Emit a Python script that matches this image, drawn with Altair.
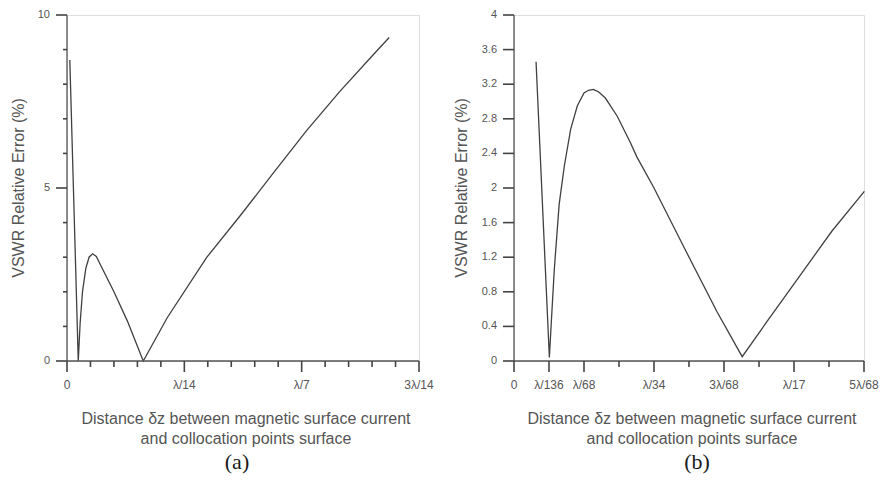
import altair as alt
import pandas as pd

# ---- panel (a): x in units of lambda/70 ----
a_x = [0.12, 0.48, 0.56, 0.66, 0.80, 0.94, 1.09, 1.25, 1.44, 2.00, 2.57, 3.25, 4.27, 5.96, 7.37, 8.78, 10.20, 11.61, 13.02, 13.73]
a_y = [8.70, 0.00, 1.10, 2.00, 2.67, 3.00, 3.10, 3.02, 2.76, 2.00, 1.16, 0.00, 1.25, 3.00, 4.19, 5.42, 6.65, 7.78, 8.83, 9.35]

# ---- panel (b): x in units of lambda/136 ----
b_x = [0.63, 1.01, 1.08, 1.15, 1.29, 1.44, 1.62, 1.81, 2.00, 2.13, 2.27, 2.42, 2.61, 2.95, 3.32, 3.51, 4.00, 4.90, 5.80, 6.52, 7.20, 8.14, 9.08, 10.01]
b_y = [3.46, 0.04, 0.55, 1.05, 1.81, 2.26, 2.68, 2.95, 3.10, 3.13, 3.14, 3.11, 3.04, 2.83, 2.53, 2.36, 2.00, 1.28, 0.57, 0.05, 0.44, 0.97, 1.50, 1.96]

a_xdomain = [0, 15]
a_ydomain = [0, 10]
a_xminor = [1, 2, 3, 4, 6, 7, 8, 9, 11, 12, 13, 14]
a_xmajor = [0, 5, 10, 15]
a_xlabels = ["0", "λ/14", "λ/7", "3λ/14"]
a_yminor = [1, 2, 3, 4, 6, 7, 8, 9]
a_ymajor = [0, 5, 10]
a_ylabels = ["0", "5", "10"]

b_xdomain = [0, 10]
b_ydomain = [0, 4]
b_xminor = [3, 5, 7, 9]
b_xmajor = [0, 1, 2, 4, 6, 8, 10]
b_xlabels = ["0", "λ/136", "λ/68", "λ/34", "3λ/68", "λ/17", "5λ/68"]
b_yminor = []
b_ymajor = [0, 0.4, 0.8, 1.2, 1.6, 2, 2.4, 2.8, 3.2, 3.6, 4]
b_ylabels = ["0", "0.4", "0.8", "1.2", "1.6", "2", "2.4", "2.8", "3.2", "3.6", "4"]

x_title = ["Distance δz between magnetic surface current", "and collocation points surface"]
y_title = "VSWR Relative Error (%)"

GREY = "#555555"
TICK = "#444444"
LINE = "#404040"
FONT = "Liberation Sans"
MAJOR = 11
MINOR_X = 6
MINOR_Y = 4


def panel(xs, ys, xdom, ydom, xmaj, xlab, xmin, ymaj, ylab, ymin, w, h,
          caption, ytitle_dx, caption_dx):
    sx = alt.Scale(domain=xdom, nice=False, zero=True)
    sy = alt.Scale(domain=ydom, nice=False)

    line = alt.Chart(pd.DataFrame({"x": xs, "y": ys})).mark_line(color=LINE, strokeWidth=1.3).encode(
        x=alt.X("x:Q", scale=sx, axis=None),
        y=alt.Y("y:Q", scale=sy, axis=None),
    )
    rule = dict(color=GREY, strokeWidth=1.3)
    tick = dict(color=TICK, strokeWidth=1.6, opacity=1)
    xdomain_line = alt.Chart(pd.DataFrame({"a": [xdom[0]], "b": [xdom[1]]})).mark_rule(**rule).encode(
        x=alt.X("a:Q", scale=sx, axis=None), x2="b:Q", y=alt.value(h))
    ydomain_line = alt.Chart(pd.DataFrame({"a": [ydom[0]], "b": [ydom[1]]})).mark_rule(**rule).encode(
        y=alt.Y("a:Q", scale=sy, axis=None), y2="b:Q", x=alt.value(0))

    def xticks(vals, size):
        return alt.Chart(pd.DataFrame({"x": vals})).mark_rule(**tick).encode(
            x=alt.X("x:Q", scale=sx, axis=None), y=alt.value(h), y2=alt.value(h + size))

    def yticks(vals, size):
        return alt.Chart(pd.DataFrame({"y": vals})).mark_rule(**tick).encode(
            y=alt.Y("y:Q", scale=sy, axis=None), x=alt.value(-size), x2=alt.value(0))

    xlab_layer = alt.Chart(pd.DataFrame({"x": xmaj, "label": xlab})).mark_text(
        font=FONT, fontSize=12, color=GREY, align="center", baseline="middle").encode(
        x=alt.X("x:Q", scale=sx, axis=None), y=alt.value(h + 24), text="label:N")
    ylab_layer = alt.Chart(pd.DataFrame({"y": ymaj, "label": ylab})).mark_text(
        font=FONT, fontSize=11, color=GREY, align="right", baseline="middle").encode(
        y=alt.Y("y:Q", scale=sy, axis=None), x=alt.value(-17), text="label:N")
    ytitle_layer = alt.Chart(pd.DataFrame({"t": [y_title]})).mark_text(
        font=FONT, fontSize=16, color=GREY, align="center", baseline="middle", angle=270).encode(
        x=alt.value(ytitle_dx), y=alt.value(h / 2), text="t:N")
    xtitle1 = alt.Chart(pd.DataFrame({"t": [x_title[0]]})).mark_text(
        font=FONT, fontSize=16, color=GREY, align="center", baseline="middle").encode(
        x=alt.value(w / 2 + 3), y=alt.value(h + 58), text="t:N")
    xtitle2 = alt.Chart(pd.DataFrame({"t": [x_title[1]]})).mark_text(
        font=FONT, fontSize=16, color=GREY, align="center", baseline="middle").encode(
        x=alt.value(w / 2 + 3), y=alt.value(h + 78), text="t:N")
    cap = alt.Chart(pd.DataFrame({"t": [caption]})).mark_text(
        font="Liberation Serif", fontSize=22, color="#1a1a1a", align="center", baseline="middle").encode(
        x=alt.value(w / 2 + caption_dx), y=alt.value(h + 101), text="t:N")

    layers = [line, xdomain_line, ydomain_line, xticks(xmaj, MAJOR), xticks(xmin, MINOR_X), yticks(ymaj, MAJOR)]
    if ymin:
        layers.append(yticks(ymin, MINOR_Y))
    layers += [xlab_layer, ylab_layer, ytitle_layer, xtitle1, xtitle2, cap]
    return alt.layer(*layers).properties(width=w, height=h)


chart_a = panel(a_x, a_y, a_xdomain, a_ydomain, a_xmajor, a_xlabels, a_xminor,
                a_ymajor, a_ylabels, a_yminor, 352, 346, "(a)", -48, -6)
chart_b = panel(b_x, b_y, b_xdomain, b_ydomain, b_xmajor, b_xlabels, b_xminor,
                b_ymajor, b_ylabels, b_yminor, 350, 346, "(b)", -52, 8)

chart = alt.hconcat(chart_a, chart_b, spacing=18).configure_view(strokeWidth=0).configure(
    padding={"left": 2, "top": 0, "right": 0, "bottom": 0}
)

chart.save("out.html", embed_options={"renderer": "svg", "actions": False})
